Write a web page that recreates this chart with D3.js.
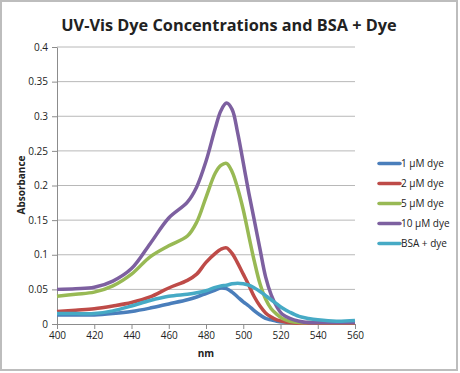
<!DOCTYPE html>
<html>
<head>
<meta charset="utf-8">
<script src="https://cdn.jsdelivr.net/npm/d3@7"></script>
<style>
  body { margin: 0; background: #fff; }
  text { font-family: "Open Sans", "Liberation Sans", sans-serif; fill: #222; }
</style>
</head>
<body>
<svg id="chart" width="460" height="373"></svg>
<script>
// wavelength grid (nm)
var nm = [400,410,420,430,440,450,460,470,475,480,485,488,491,494,497,500,503,506,509,512,515,518,521,525,530,535,540,550,560]

var series_names = ["1 \u00b5M dye", "2 \u00b5M dye", "5 \u00b5M dye", "10 \u00b5M dye", "BSA + dye"]
var colors = ["#4a7ebb", "#be4b48", "#98b954", "#7d60a0", "#46aac5"]

var dye1  = [0.013,0.013,0.013,0.015,0.018,0.023,0.029,0.035,0.039,0.044,0.049,0.052,0.051,0.046,0.039,0.032,0.026,0.019,0.013,0.008,0.006,0.004,0.003,0.003,0.002,0.002,0.002,0.002,0.002]
var dye2  = [0.018,0.020,0.022,0.026,0.031,0.039,0.052,0.063,0.072,0.089,0.102,0.108,0.110,0.102,0.088,0.072,0.056,0.039,0.026,0.016,0.010,0.006,0.004,0.002,0.001,0.001,0.001,0.001,0.001]
var dye5  = [0.040,0.043,0.046,0.055,0.072,0.097,0.113,0.127,0.147,0.183,0.218,0.229,0.232,0.220,0.196,0.165,0.127,0.090,0.058,0.036,0.022,0.014,0.008,0.004,0.002,0.002,0.002,0.002,0.002]
var dye10 = [0.050,0.051,0.053,0.062,0.080,0.116,0.153,0.176,0.198,0.235,0.283,0.308,0.319,0.310,0.276,0.233,0.189,0.149,0.108,0.068,0.042,0.025,0.014,0.008,0.004,0.002,0.002,0.002,0.002]
var bsa   = [0.015,0.015,0.015,0.019,0.026,0.034,0.040,0.043,0.045,0.048,0.053,0.055,0.056,0.058,0.059,0.058,0.056,0.052,0.047,0.041,0.035,0.029,0.023,0.017,0.011,0.008,0.006,0.004,0.005]

var x_ticks = [400,420,440,460,480,500,520,540,560]
var y_ticks = [0,0.05,0.1,0.15,0.2,0.25,0.3,0.35,0.4]

var all_series = [dye1, dye2, dye5, dye10, bsa]

var svg = d3.select("#chart")

// outer frame
svg.append("rect")
  .attr("x", 1).attr("y", 1).attr("width", 456).attr("height", 369)
  .style("fill", "#fff").style("stroke", "#bdbdbd").style("stroke-width", 2)

var x = d3.scaleLinear().domain([400,560]).range([57,355])
var y = d3.scaleLinear().domain([0,0.4]).range([324,47])

// gridlines
svg.selectAll(".grid").data(y_ticks.slice(1)).enter().append("line")
  .attr("class", "grid")
  .attr("x1", x(400)).attr("x2", x(560))
  .attr("y1", function(d){ return y(d); })
  .attr("y2", function(d){ return y(d); })
  .style("stroke", "#b8b8b8").style("stroke-width", 1)

// axes
var yAxis = svg.append("g").attr("transform", "translate(" + x(400) + ",0)")
  .call(d3.axisLeft(y).tickValues(y_ticks).tickSize(5).tickSizeOuter(0)
    .tickFormat(function(d){ return d === 0 ? "0" : String(+d.toFixed(2)); }))
var xAxis = svg.append("g").attr("transform", "translate(0," + y(0) + ")")
  .call(d3.axisBottom(x).tickValues(x_ticks).tickSize(5).tickSizeOuter(0))

;[yAxis, xAxis].forEach(function(g){
  g.select(".domain").style("stroke", "#8c8c8c")
  g.selectAll(".tick line").style("stroke", "#8c8c8c")
  g.selectAll(".tick text").style("font-size", "10px").style("fill", "#222")
})
yAxis.selectAll(".tick text").attr("x", -9)
xAxis.selectAll(".tick text").attr("y", 8)

// curves
var line = d3.line()
  .x(function(d, i){ return x(nm[i]); })
  .y(function(d){ return y(d); })
  .curve(d3.curveCatmullRom.alpha(0.5))

svg.selectAll(".series").data(all_series).enter().append("path")
  .attr("class", "series")
  .attr("d", function(d){ return line(d); })
  .style("fill", "none")
  .style("stroke", function(d, i){ return colors[i]; })
  .style("stroke-width", 3.5)
  .style("stroke-linejoin", "round")

// legend
var legend = svg.selectAll(".legend").data(series_names).enter().append("g")
  .attr("class", "legend")
  .attr("transform", function(d, i){ return "translate(379," + (163.5 + i * 20) + ")"; })
legend.append("line")
  .attr("x1", 0).attr("x2", 21)
  .style("stroke", function(d, i){ return colors[i]; })
  .style("stroke-width", 3.5).style("stroke-linecap", "round")
legend.append("text")
  .attr("x", 22).attr("y", 3.5)
  .style("font-size", "10px")
  .text(function(d){ return d; })

// titles
svg.append("text")
  .attr("x", 229).attr("y", 31)
  .attr("text-anchor", "middle")
  .style("font-size", "16.3px").style("font-weight", "bold")
  .text("UV-Vis Dye Concentrations and BSA + Dye")

svg.append("text")
  .attr("x", 206).attr("y", 357)
  .attr("text-anchor", "middle")
  .style("font-size", "10px").style("font-weight", "bold")
  .text("nm")

svg.append("text")
  .attr("transform", "translate(25,185) rotate(-90)")
  .attr("text-anchor", "middle")
  .style("font-size", "10px").style("font-weight", "bold")
  .text("Absorbance")
</script>
</body>
</html>
